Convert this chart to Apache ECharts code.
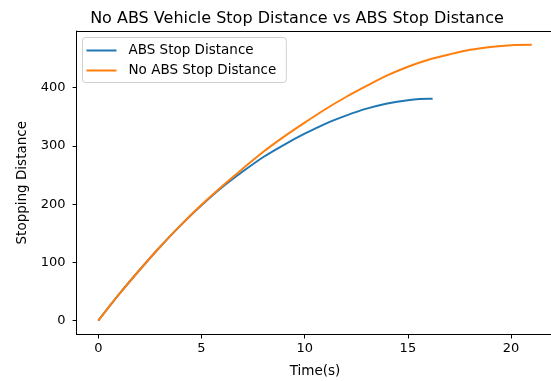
<!DOCTYPE html>
<html>
<head>
<meta charset="utf-8">
<script src="https://cdn.jsdelivr.net/npm/echarts@6/dist/echarts.min.js"></script>
<style>
  html, body { margin: 0; padding: 0; background: #fff; }
  #chart { width: 551px; height: 381px; }
</style>
</head>
<body>
<div id="chart"></div>
<script>
// Stopping distance over time, with and without ABS
const absTime = [0, 1, 2, 3, 4, 5, 6, 7, 8, 9, 10, 11, 12, 13, 14, 15, 16, 16.2];
const absDistance = [0, 45, 87, 127, 164, 198, 229, 256, 281, 302, 321, 338, 352, 364, 373, 378.5, 381, 381];

const noAbsTime = [0, 1, 2, 3, 4, 5, 6, 7, 8, 9, 10, 11, 12, 13, 14, 15, 16, 17, 18, 19, 20, 21];
const noAbsDistance = [0, 45, 87, 127, 164, 199, 231, 261, 290, 316, 340, 363, 384, 403, 421, 436, 448, 457, 465, 470, 473, 473.6];

const xTicks = [0, 5, 10, 15, 20];
const yTicks = [0, 100, 200, 300, 400];

const seriesNames = ['ABS Stop Distance', 'No ABS Stop Distance'];
const colors = ['#1f77b4', '#ff7f0e'];

const pairs = (xs, ys) => xs.map((x, i) => [x, ys[i]]);

const font = 'DejaVu Sans';
const xMin = -1.05, xMax = 22.05;
const chart = echarts.init(document.getElementById('chart'), null, { renderer: 'canvas' });

chart.setOption({
  animation: false,
  backgroundColor: '#fff',
  title: {
    text: 'No ABS Vehicle Stop Distance vs ABS Stop Distance',
    left: 292,
    textAlign: 'center',
    top: 6,
    textStyle: { fontFamily: font, fontSize: 16, fontWeight: 'normal', color: '#000' }
  },
  legend: {
    data: seriesNames,
    orient: 'vertical',
    left: 82.5,
    top: 37.5,
    icon: 'rect',
    itemWidth: 30,
    itemHeight: 2,
    itemGap: 6,
    padding: [6, 10, 5, 4],
    backgroundColor: '#fff',
    borderColor: '#d0d0d0',
    borderWidth: 1,
    borderRadius: 3,
    textStyle: { fontFamily: font, fontSize: 13.5, color: '#000', padding: [0, 0, 0, 7] }
  },
  grid: {
    left: 76.6,
    top: 31,
    width: 476.8,
    height: 303.5,
    show: false,
    outerBoundsMode: 'none',
    containLabel: false
  },
  xAxis: [
    {
      type: 'value',
      min: xMin,
      max: xMax,
      name: 'Time(s)',
      nameLocation: 'middle',
      nameGap: 30,
      nameTextStyle: { fontFamily: font, fontSize: 13.5, color: '#000' },
      axisLine: { show: true, onZero: false, lineStyle: { color: '#000', width: 1 } },
      axisTick: { show: true, customValues: xTicks, length: 4, lineStyle: { color: '#000' } },
      axisLabel: { customValues: xTicks, fontFamily: font, fontSize: 13, color: '#000', margin: 8 },
      splitLine: { show: false }
    },
    {
      // top spine
      type: 'value',
      position: 'top',
      min: xMin,
      max: xMax,
      axisLine: { show: true, onZero: false, lineStyle: { color: '#000', width: 1 } },
      axisTick: { show: false },
      axisLabel: { show: false },
      splitLine: { show: false }
    }
  ],
  yAxis: {
    type: 'value',
    min: -23.7,
    max: 497.3,
    name: 'Stopping Distance',
    nameLocation: 'middle',
    nameGap: 45,
    nameTextStyle: { fontFamily: font, fontSize: 13.5, color: '#000' },
    axisLine: { show: true, onZero: false, lineStyle: { color: '#000', width: 1 } },
    axisTick: { show: true, customValues: yTicks, length: 4, lineStyle: { color: '#000' } },
    axisLabel: { customValues: yTicks, fontFamily: font, fontSize: 13, color: '#000', margin: 11 },
    splitLine: { show: false }
  },
  series: [
    {
      name: seriesNames[0],
      type: 'line',
      xAxisIndex: 0,
      data: pairs(absTime, absDistance),
      smooth: 0.3,
      showSymbol: false,
      symbol: 'none',
      color: colors[0],
      lineStyle: { width: 2, color: colors[0] },
      z: 2
    },
    {
      name: seriesNames[1],
      type: 'line',
      xAxisIndex: 0,
      data: pairs(noAbsTime, noAbsDistance),
      smooth: 0.3,
      showSymbol: false,
      symbol: 'none',
      color: colors[1],
      lineStyle: { width: 2, color: colors[1] },
      z: 3
    }
  ]
});
</script>
</body>
</html>
